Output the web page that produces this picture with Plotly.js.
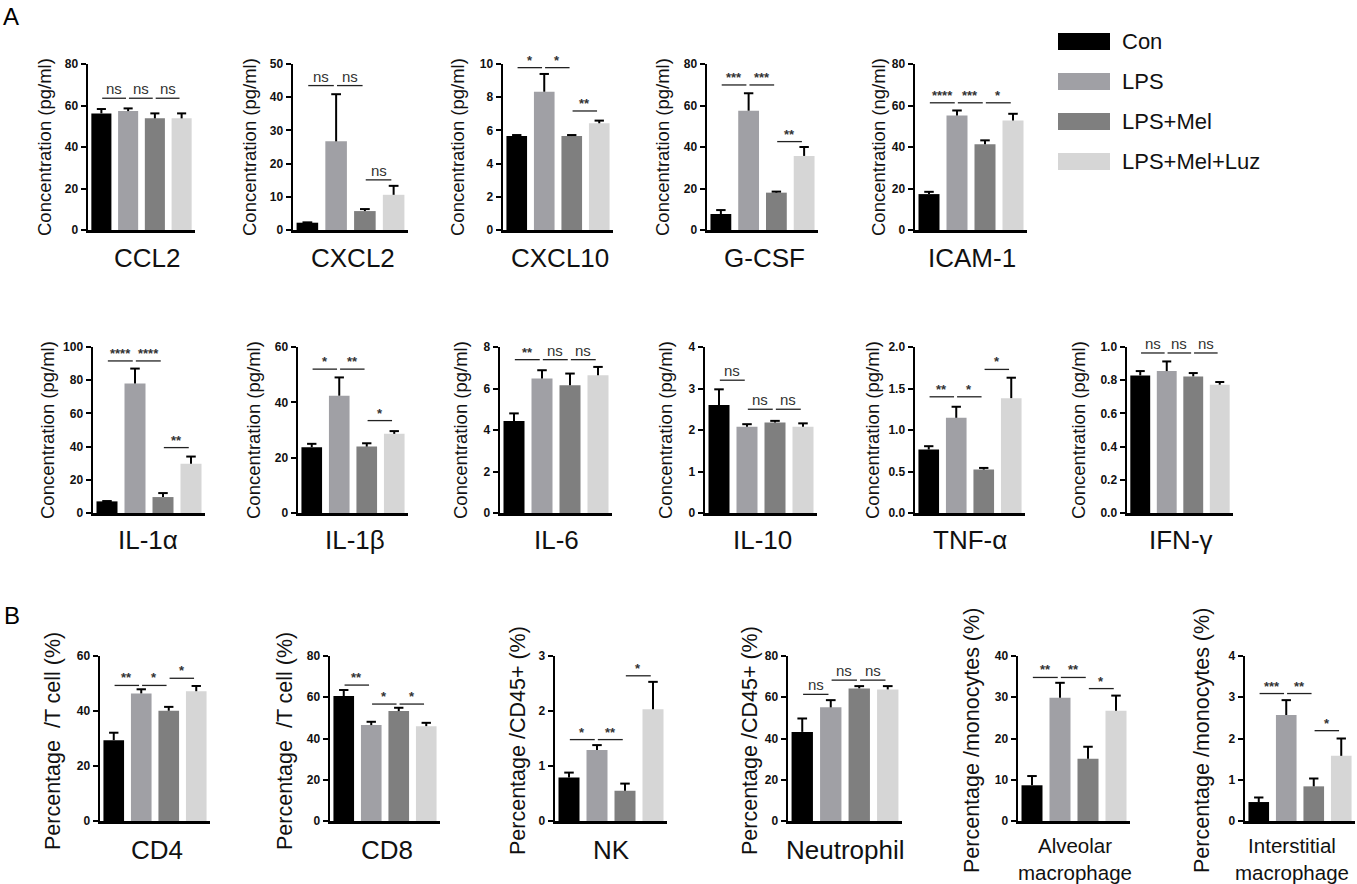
<!DOCTYPE html>
<html>
<head>
<meta charset="utf-8">
<script src="https://cdn.plot.ly/plotly-3.0.1.min.js"></script>
<style>
  html, body { margin: 0; padding: 0; background: #ffffff; }
  #chart { width: 1357px; height: 884px; }
</style>
</head>
<body>
<div id="chart"></div>
<script>
// groups and colours
const groups = ["Con", "LPS", "LPS+Mel", "LPS+Mel+Luz"];
const groupColors = ["#000000", "#a0a0a5", "#7f7f7f", "#d6d6d6"];

// one entry per panel
const panelLabels = [
  "CCL2", "CXCL2", "CXCL10", "G-CSF", "ICAM-1",
  "IL-1α", "IL-1β", "IL-6", "IL-10", "TNF-α", "IFN-γ",
  "CD4", "CD8", "NK", "Neutrophil", "Alveolar<br>macrophage", "Interstitial<br>macrophage"
];

const yTitles = [
  "Concentration (pg/ml)", "Concentration (pg/ml)", "Concentration (pg/ml)", "Concentration (pg/ml)", "Concentration (ng/ml)",
  "Concentration (pg/ml)", "Concentration (pg/ml)", "Concentration (pg/ml)", "Concentration (pg/ml)", "Concentration (pg/ml)", "Concentration (pg/ml)",
  "Percentage\u00a0 /T cell (%)", "Percentage\u00a0 /T cell (%)", "Percentage /CD45+ (%)", "Percentage /CD45+ (%)",
  "Percentage /monocytes (%)", "Percentage /monocytes (%)"
];

const yMax = [80, 50, 10, 80, 80, 100, 60, 8, 4, 2, 1, 60, 80, 3, 80, 40, 4];
const yStep = [20, 10, 2, 20, 20, 20, 20, 2, 1, 0.5, 0.2, 20, 20, 1, 20, 10, 1];

const means = [
  [56.2, 57.3, 53.8, 53.8],
  [2.2, 26.7, 5.7, 10.6],
  [5.66, 8.33, 5.66, 6.43],
  [7.7, 57.5, 18.0, 35.7],
  [17.3, 55.2, 41.3, 52.8],
  [7.0, 78.0, 9.6, 29.6],
  [23.8, 42.4, 24.0, 28.6],
  [4.43, 6.48, 6.16, 6.64],
  [2.60, 2.08, 2.18, 2.08],
  [0.765, 1.147, 0.523, 1.384],
  [0.829, 0.855, 0.823, 0.773],
  [29.4, 46.4, 40.1, 47.2],
  [60.6, 46.5, 53.3, 46.0],
  [0.79, 1.29, 0.55, 2.03],
  [43.2, 55.1, 64.3, 63.8],
  [8.66, 29.9, 15.1, 26.7],
  [0.46, 2.57, 0.84, 1.58]
];

const sems = [
  [2.1, 1.3, 2.4, 2.4],
  [0.1, 14.2, 0.6, 2.7],
  [0.06, 1.07, 0.06, 0.16],
  [1.9, 8.4, 0.5, 4.3],
  [1.1, 2.4, 1.9, 3.2],
  [0.2, 9.0, 2.4, 4.4],
  [1.2, 6.6, 1.2, 1.0],
  [0.37, 0.40, 0.56, 0.40],
  [0.38, 0.06, 0.04, 0.08],
  [0.04, 0.133, 0.02, 0.246],
  [0.026, 0.058, 0.02, 0.016],
  [2.7, 1.5, 1.4, 1.9],
  [2.9, 1.6, 1.6, 1.6],
  [0.09, 0.09, 0.13, 0.50],
  [6.5, 3.5, 1.1, 1.6],
  [2.24, 3.6, 2.9, 3.7],
  [0.11, 0.36, 0.19, 0.42]
];

// [group a, group b, bracket level, label]
const sigTests = [
  [[0, 1, 63.5, "ns"], [1, 2, 63.5, "ns"], [2, 3, 63.5, "ns"]],
  [[0, 1, 43.5, "ns"], [1, 2, 43.5, "ns"], [2, 3, 15.1, "ns"]],
  [[0, 1, 9.78, "*"], [1, 2, 9.78, "*"], [2, 3, 7.17, "**"]],
  [[0, 1, 69.9, "***"], [1, 2, 69.9, "***"], [2, 3, 42.6, "**"]],
  [[0, 1, 61.3, "****"], [1, 2, 61.3, "***"], [2, 3, 61.3, "*"]],
  [[0, 1, 91.6, "****"], [1, 2, 91.6, "****"], [2, 3, 39.4, "**"]],
  [[0, 1, 52, "*"], [1, 2, 52, "**"], [2, 3, 33.4, "*"]],
  [[0, 1, 7.39, "**"], [1, 2, 7.39, "ns"], [2, 3, 7.39, "ns"]],
  [[0, 1, 3.2, "ns"], [1, 2, 2.5, "ns"], [2, 3, 2.5, "ns"]],
  [[0, 1, 1.40, "**"], [1, 2, 1.40, "*"], [2, 3, 1.73, "*"]],
  [[0, 1, 0.964, "ns"], [1, 2, 0.964, "ns"], [2, 3, 0.964, "ns"]],
  [[0, 1, 49.3, "**"], [1, 2, 49.3, "*"], [2, 3, 51.9, "*"]],
  [[0, 1, 65.9, "**"], [1, 2, 56.7, "*"], [2, 3, 56.7, "*"]],
  [[0, 1, 1.48, "*"], [1, 2, 1.48, "**"], [2, 3, 2.64, "*"]],
  [[0, 1, 61.4, "ns"], [1, 2, 68.3, "ns"], [2, 3, 68.3, "ns"]],
  [[0, 1, 34.8, "**"], [1, 2, 34.8, "**"], [2, 3, 32.1, "*"]],
  [[0, 1, 3.09, "***"], [1, 2, 3.09, "**"], [2, 3, 2.19, "*"]]
];

// page layout (pixels): plot box [left, right, top, bottom]
const W = 1357, H = 884;
const boxes = [
  [88, 195, 64, 230], [293, 408, 64, 230], [503, 613, 64, 230], [707, 818, 64, 230], [915, 1027, 64, 230],
  [93, 205, 347, 513], [298, 408, 347, 513], [500, 612, 347, 513], [705, 817, 347, 513], [915, 1025, 347, 513], [1127, 1233, 347, 513],
  [100, 210, 656, 821], [330, 440, 656, 821], [555, 667, 656, 821], [788, 902, 656, 821], [1018, 1130, 656, 821], [1245, 1355, 656, 821]
];
const titleX = [45, 250, 458, 663, 879, 47, 253, 460, 665, 872, 1078, 53, 285, 518, 750, 972, 1202];
const labelX = [147, 353, 560, 764, 972, 148, 355, 556, 762, 970, 1181, 157, 387, 611, 845, 1075, 1292];
const rowOf = [0, 0, 0, 0, 0, 1, 1, 1, 1, 1, 1, 2, 2, 2, 2, 2, 2];
const titleY = [147, 430, 741];
const titleSize = [18.5, 18.5, 21.5];
const labelY = [258, 540, 850];

const FONT = "Arial, 'Liberation Sans', sans-serif";
const px = (x) => x / W;
const py = (y) => 1 - y / H;

const traces = [];
const shapes = [];
const annotations = [];
const layout = {
  width: W,
  height: H,
  autosize: false,
  margin: { l: 0, r: 0, t: 0, b: 0 },
  paper_bgcolor: "#ffffff",
  plot_bgcolor: "#ffffff",
  showlegend: false,
  font: { family: FONT, color: "#000000" }
};

panelLabels.forEach((label, k) => {
  const n = k === 0 ? "" : String(k + 1);
  const xa = "x" + n;
  const ya = "y" + n;
  const [l, r, t, b] = boxes[k];
  const row = rowOf[k];

  layout["xaxis" + n] = {
    domain: [px(l), px(r)],
    anchor: ya,
    range: [-0.5, 3.5],
    showticklabels: false,
    ticks: "",
    showline: true,
    linecolor: "#000000",
    linewidth: 2.5,
    showgrid: false,
    zeroline: false,
    fixedrange: true
  };

  layout["yaxis" + n] = {
    domain: [py(b), py(t)],
    anchor: xa,
    range: [0, yMax[k]],
    tick0: 0,
    dtick: yStep[k],
    tickformat: yStep[k] < 1 ? ".1f" : "",
    ticks: "outside",
    ticklen: 5,
    tickwidth: 2,
    tickcolor: "#000000",
    tickfont: { family: FONT, size: 12, weight: "bold", color: "#111111" },
    showline: true,
    linecolor: "#000000",
    linewidth: 2.5,
    showgrid: false,
    zeroline: false,
    fixedrange: true
  };

  traces.push({
    type: "bar",
    x: [0, 1, 2, 3],
    y: means[k],
    width: 0.75,
    marker: { color: groupColors, line: { width: 0 } },
    xaxis: xa,
    yaxis: ya,
    hoverinfo: "skip"
  });

  // upward-only error bars with caps
  const ex = [];
  const ey = [];
  means[k].forEach((m, i) => {
    const top = m + sems[k][i];
    ex.push(i, i, null, i - 0.17, i + 0.17, null);
    ey.push(m, top, null, top, top, null);
  });
  traces.push({
    type: "scatter",
    mode: "lines",
    x: ex,
    y: ey,
    line: { color: "#000000", width: 2 },
    xaxis: xa,
    yaxis: ya,
    hoverinfo: "skip",
    cliponaxis: false
  });

  // significance lines
  const sx = [];
  const sy = [];
  sigTests[k].forEach(([a, c, level, txt]) => {
    sx.push(a + 0.03, c - 0.08, null);
    sy.push(level, level, null);
    const isStar = txt.indexOf("*") === 0;
    annotations.push({
      xref: xa,
      yref: ya,
      x: (a + c) / 2 - 0.025,
      y: level,
      text: txt,
      showarrow: false,
      xanchor: "center",
      yanchor: "bottom",
      borderpad: 0,
      yshift: isStar ? -1 : 0,
      font: { family: FONT, size: isStar ? 13 : 15, color: "#333333", weight: isStar ? "bold" : "normal" }
    });
  });
  traces.push({
    type: "scatter",
    mode: "lines",
    x: sx,
    y: sy,
    line: { color: "#222222", width: 1.3 },
    xaxis: xa,
    yaxis: ya,
    hoverinfo: "skip",
    cliponaxis: false
  });

  // y-axis title
  annotations.push({
    xref: "paper",
    yref: "paper",
    x: px(titleX[k]),
    y: py(titleY[row]),
    text: yTitles[k],
    textangle: -90,
    showarrow: false,
    xanchor: "center",
    yanchor: "middle",
    font: { family: FONT, size: titleSize[row], color: "#111111" }
  });

  // category label under each panel
  const twoLine = label.indexOf("<br>") >= 0;
  annotations.push({
    xref: "paper",
    yref: "paper",
    x: px(labelX[k]),
    y: py(labelY[row] + (twoLine ? 9 : 0)),
    text: label,
    showarrow: false,
    xanchor: "center",
    yanchor: "middle",
    font: { family: FONT, size: twoLine ? 20.5 : 26, color: "#111111" }
  });
});

// legend drawn as swatches + labels
const legendLeft = 1058, legendRight = 1110, legendTop = 33, legendPitch = 40, swatchH = 17;
groups.forEach((g, i) => {
  const y0 = legendTop + i * legendPitch;
  shapes.push({
    type: "rect",
    xref: "paper",
    yref: "paper",
    x0: px(legendLeft),
    x1: px(legendRight),
    y0: py(y0 + swatchH),
    y1: py(y0),
    fillcolor: groupColors[i],
    line: { width: 0 }
  });
  annotations.push({
    xref: "paper",
    yref: "paper",
    x: px(1120),
    y: py(y0 + swatchH / 2),
    text: g,
    showarrow: false,
    xanchor: "left",
    yanchor: "middle",
    font: { family: FONT, size: 22, color: "#111111" }
  });
});

// panel letters
annotations.push(
  { xref: "paper", yref: "paper", x: px(1), y: py(16), text: "A", showarrow: false, xanchor: "left", yanchor: "middle", font: { family: FONT, size: 24, color: "#000000" } },
  { xref: "paper", yref: "paper", x: px(2), y: py(615), text: "B", showarrow: false, xanchor: "left", yanchor: "middle", font: { family: FONT, size: 24, color: "#000000" } }
);

layout.shapes = shapes;
layout.annotations = annotations;

Plotly.newPlot("chart", traces, layout, { displayModeBar: false, staticPlot: true });
</script>
</body>
</html>
